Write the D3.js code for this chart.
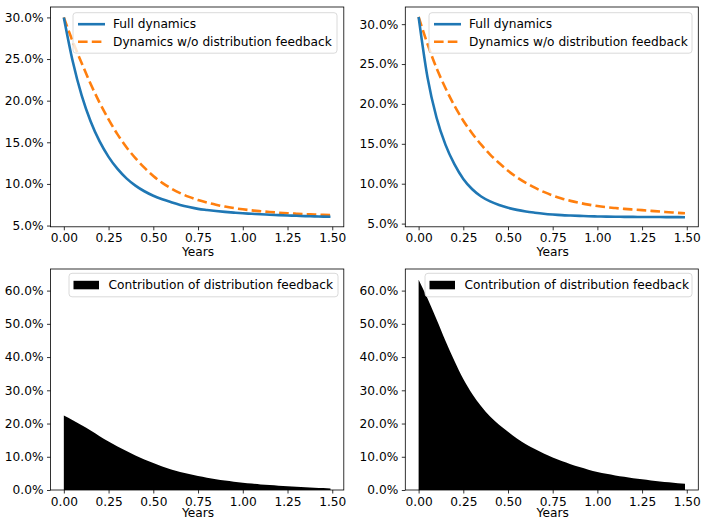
<!DOCTYPE html>
<html><head><meta charset="utf-8">
<script src="https://cdn.jsdelivr.net/npm/d3@7"></script>
<style>
html,body{margin:0;padding:0;background:#fff;}
svg{display:block;font-family:"DejaVu Sans",sans-serif;}
</style></head>
<body>
<svg id="chart" width="702" height="519"></svg>
<script>
// ---- data ----
const years = [0,0.05,0.10,0.15,0.20,0.25,0.30,0.35,0.40,0.45,0.50,0.55,0.60,0.65,0.70,0.75,0.80,0.85,0.90,0.95,1.00,1.05,1.10,1.15,1.20,1.25,1.30,1.35,1.40,1.45,1.49];

// top-left panel (%)
const fullLeft = [30.0,24.7,20.6,17.5,15.1,13.25,11.8,10.67,9.8,9.12,8.58,8.15,7.8,7.48,7.22,7.0,6.86,6.74,6.64,6.55,6.47,6.41,6.35,6.3,6.25,6.21,6.17,6.13,6.1,6.07,6.05];
const noFbLeft = [30.0,27.1,24.5,22.0,19.75,17.75,15.95,14.4,13.1,11.95,10.95,10.12,9.45,8.9,8.44,8.06,7.76,7.5,7.28,7.1,6.95,6.82,6.72,6.63,6.55,6.48,6.42,6.37,6.33,6.29,6.26];
// top-right panel (%)
const fullRight = [30.9,23.3,18.3,14.9,12.45,10.6,9.3,8.4,7.78,7.32,6.98,6.72,6.52,6.37,6.24,6.14,6.06,6.01,5.97,5.93,5.9,5.88,5.86,5.85,5.84,5.83,5.82,5.82,5.81,5.81,5.8];
const noFbRight = [30.9,27.5,24.5,22.0,19.8,17.9,16.3,14.9,13.65,12.6,11.62,10.8,10.1,9.5,8.97,8.52,8.15,7.85,7.6,7.38,7.2,7.06,6.95,6.85,6.77,6.69,6.6,6.51,6.43,6.35,6.29];
// bottom panels: contribution of distribution feedback (%)
const contribLeft = [22.4,21.0,19.5,17.9,16.2,14.6,13.1,11.7,10.4,9.2,8.1,7.1,6.2,5.45,4.8,4.2,3.7,3.25,2.85,2.5,2.2,1.93,1.69,1.48,1.29,1.12,0.97,0.83,0.7,0.58,0.48];
const contribRight = [63.3,57.6,51.4,44.9,38.9,33.4,28.9,25.2,22.1,19.6,17.5,15.5,13.8,12.3,10.95,9.75,8.7,7.75,6.9,6.1,5.45,4.9,4.4,3.95,3.55,3.2,2.85,2.55,2.3,2.05,1.85];

const xTicks = [0,0.25,0.5,0.75,1.0,1.25,1.5];
const yTicksTop = [5,10,15,20,25,30];
const yTicksBottom = [0,10,20,30,40,50,60];
const labelFull = "Full dynamics";
const labelNoFb = "Dynamics w/o distribution feedback";
const labelContrib = "Contribution of distribution feedback";
const xLabel = "Years";

// ---- drawing ----
const svg = d3.select("#chart");
const FS = 12.2;
const blue = "#1f77b4", orange = "#ff7f0e";

function panel(box, yDomain, yTicks, xLabelY) {
  const g = svg.append("g");
  const x = d3.scaleLinear().domain([-0.0745, 1.5645]).range([box.x0, box.x1]);
  const y = d3.scaleLinear().domain(yDomain).range([box.y1, box.y0]);
  const clip = "clip" + Math.round(box.x0) + "_" + Math.round(box.y0);
  svg.append("clipPath").attr("id", clip).append("rect")
    .attr("x", box.x0).attr("y", box.y0).attr("width", box.x1 - box.x0).attr("height", box.y1 - box.y0);
  const plot = g.append("g").attr("clip-path", `url(#${clip})`);
  const xa = g.append("g").attr("transform", `translate(0,${box.y1})`)
    .call(d3.axisBottom(x).tickValues(xTicks).tickFormat(d3.format(".2f")).tickSize(3.5).tickPadding(3.5));
  const ya = g.append("g").attr("transform", `translate(${box.x0},0)`)
    .call(d3.axisLeft(y).tickValues(yTicks).tickFormat(d => d3.format(".1f")(d) + "%").tickSize(3.5).tickPadding(3.5));
  [xa, ya].forEach(a => {
    a.select(".domain").remove();
    a.selectAll("text").attr("font-size", FS).attr("font-family", "DejaVu Sans").attr("fill", "#000");
    a.selectAll("line").attr("stroke", "#000").attr("stroke-width", 0.8);
  });
  g.append("rect").attr("x", box.x0).attr("y", box.y0)
    .attr("width", box.x1 - box.x0).attr("height", box.y1 - box.y0)
    .attr("fill", "none").attr("stroke", "#000").attr("stroke-width", 0.8);
  g.append("text").attr("x", x(0.75)).attr("y", xLabelY)
    .attr("text-anchor", "middle").attr("font-size", FS).attr("fill", "#000").text(xLabel);
  return {g, plot, x, y};
}

function linePanel(box, yDomain, full, nofb) {
  const p = panel(box, yDomain, yTicksTop, box.y1 + 29.5);
  const line = vals => d3.line().x((d, i) => p.x(years[i])).y(d => p.y(d)).curve(d3.curveMonotoneX)(vals);
  p.plot.append("path").attr("d", line(nofb)).attr("fill", "none").attr("stroke", orange)
    .attr("stroke-width", 2.6).attr("stroke-dasharray", "9.6,4.2");
  p.plot.append("path").attr("d", line(full)).attr("fill", "none").attr("stroke", blue)
    .attr("stroke-width", 2.6);
  return p;
}

function areaPanel(box, vals) {
  const p = panel(box, [0, 66.5], yTicksBottom, 516.5);
  const area = d3.area().x((d, i) => p.x(years[i])).y0(p.y(0)).y1(d => p.y(d)).curve(d3.curveMonotoneX);
  p.plot.append("path").attr("d", area(vals)).attr("fill", "#000").attr("stroke", "none");
  return p;
}

function legendLines(lx, ly, w) {
  const g = svg.append("g");
  g.append("rect").attr("x", lx).attr("y", ly).attr("width", w).attr("height", 40.5).attr("rx", 3)
    .attr("fill", "#fff").attr("fill-opacity", 0.8).attr("stroke", "#d0d0d0").attr("stroke-width", 0.8);
  const rows = [{c: blue, dash: null, t: labelFull}, {c: orange, dash: "9.6,4.2", t: labelNoFb}];
  rows.forEach((r, i) => {
    const yy = ly + 11.5 + i * 17.6;
    const l = g.append("line").attr("x1", lx + 5).attr("x2", lx + 32).attr("y1", yy).attr("y2", yy)
      .attr("stroke", r.c).attr("stroke-width", 2.6);
    if (r.dash) l.attr("stroke-dasharray", r.dash);
    g.append("text").attr("x", lx + 40).attr("y", yy).attr("dy", "0.35em")
      .attr("font-size", FS).attr("fill", "#000").text(r.t);
  });
}

function legendPatch(lx, ly, w) {
  const g = svg.append("g");
  g.append("rect").attr("x", lx).attr("y", ly).attr("width", w).attr("height", 23.5).attr("rx", 3)
    .attr("fill", "#fff").attr("fill-opacity", 0.8).attr("stroke", "#d0d0d0").attr("stroke-width", 0.8);
  g.append("rect").attr("x", lx + 4.5).attr("y", ly + 7.5).attr("width", 25.5).attr("height", 8.5).attr("fill", "#000");
  g.append("text").attr("x", lx + 39.5).attr("y", ly + 11.9).attr("dy", "0.35em")
    .attr("font-size", FS).attr("fill", "#000").text(labelContrib);
}

const boxes = [
  {x0: 50.5, x1: 343.8, y0: 7, y1: 226.8},
  {x0: 405.3, x1: 698.3, y0: 7, y1: 226.8},
  {x0: 50.5, x1: 343.8, y0: 269, y1: 490},
  {x0: 405.3, x1: 698.3, y0: 269, y1: 490}
];

linePanel(boxes[0], [4.85, 31.25], fullLeft, noFbLeft);
linePanel(boxes[1], [4.6, 32.15], fullRight, noFbRight);
areaPanel(boxes[2], contribLeft);
areaPanel(boxes[3], contribRight);
legendLines(73, 12.7, 264);
legendLines(429, 12.7, 263);
legendPatch(69, 273.3, 269);
legendPatch(425, 273.3, 267);
</script>
</body></html>
